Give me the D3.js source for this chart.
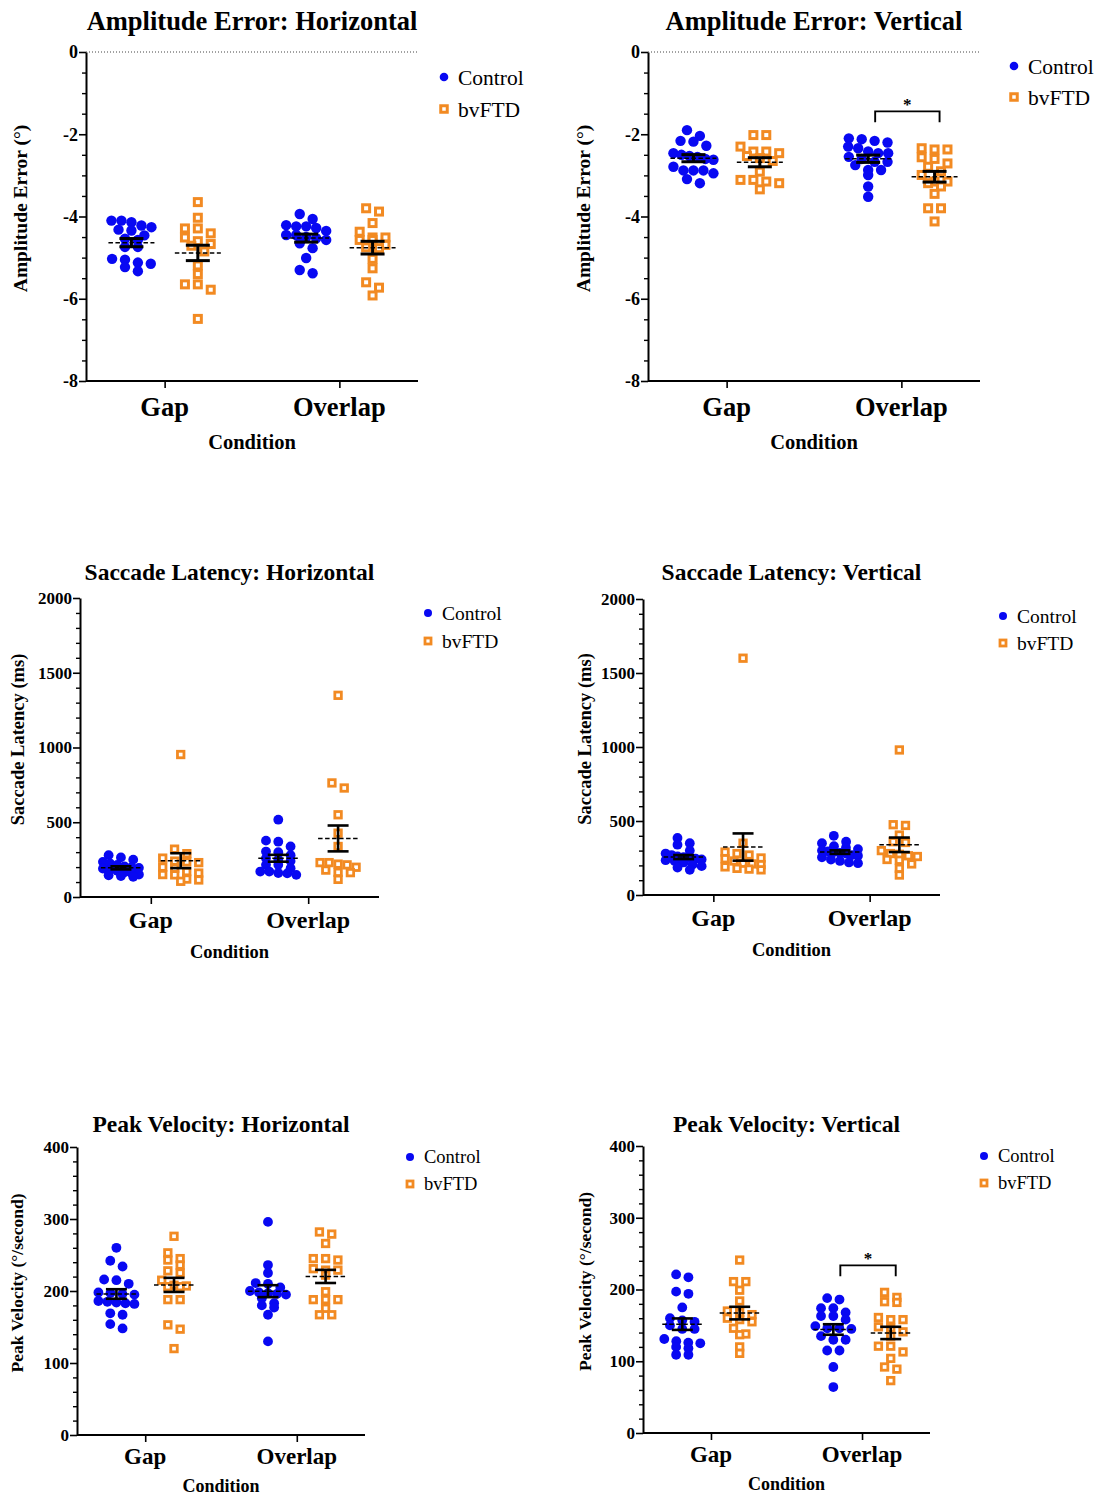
<!DOCTYPE html>
<html>
<head>
<meta charset="utf-8">
<script src="https://cdn.jsdelivr.net/npm/d3@7"></script>
<style>
  body { margin: 0; background: #fff; }
  svg { display: block; }
  text { font-family: "Liberation Serif", "DejaVu Serif", serif; fill: #000; }
</style>
</head>
<body>
<svg id="chart" width="1098" height="1497"></svg>
<script>
// ---- categories ----
const conditions = ["Gap", "Overlap"];
const groups = ["Control", "bvFTD"];

// ---- Amplitude error, horizontal (deg) ----
const ampHControlGap = [-4.10, -4.26, -4.46, -5.15, -4.14, -4.34, -4.57, -4.74, -5.03, -5.33, -4.10, -4.32, -4.54, -4.74, -5.05, -5.23, -4.22, -5.12];
const ampHbvFTDGap = [-3.65, -4.03, -4.29, -4.29, -4.41, -4.51, -4.71, -4.67, -5.19, -5.40, -5.65, -5.78, -5.65, -6.49, -4.60, -4.85];
const ampHControlOverlap = [-4.24, -4.28, -4.06, -3.94, -4.24, -4.21, -4.45, -4.35, -4.45, -4.57, -4.65, -4.53, -4.50, -4.77, -5.01, -5.38, -5.30];
const ampHbvFTDOverlap = [-3.80, -3.88, -4.16, -4.37, -4.57, -4.57, -4.51, -4.51, -4.69, -4.75, -4.77, -5.03, -5.26, -5.60, -5.73, -5.92];

// ---- Amplitude error, vertical (deg) ----
const ampVControlGap = [-1.90, -2.16, -2.04, -2.18, -2.28, -2.53, -2.46, -2.50, -2.60, -2.62, -2.55, -2.88, -2.88, -2.88, -2.79, -2.95, -3.09, -3.19];
const ampVbvFTDGap = [-2.02, -2.02, -2.42, -2.46, -2.30, -2.53, -2.42, -2.58, -2.65, -2.91, -3.15, -3.11, -3.34, -3.19, -3.11];
const ampVControlOverlap = [-2.20, -2.12, -2.10, -2.16, -2.42, -2.34, -2.30, -2.46, -2.46, -2.67, -2.67, -2.87, -2.87, -2.99, -3.27, -3.52, -2.55, -2.60, -2.75];
const ampVbvFTDOverlap = [-2.34, -2.37, -2.37, -2.56, -2.60, -2.71, -2.79, -2.99, -2.90, -3.15, -3.15, -3.19, -3.27, -3.45, -3.80, -3.80, -4.12];

// ---- Saccade latency, horizontal (ms) ----
const latHControlGap = [280, 265, 250, 235, 225, 215, 205, 200, 195, 190, 180, 175, 165, 160, 150, 145, 140, 135];
const latHbvFTDGap = [953, 320, 290, 260, 240, 235, 230, 200, 192, 170, 160, 150, 148, 120, 105, 114];
const latHControlOverlap = [517, 377, 370, 338, 304, 300, 280, 260, 250, 240, 215, 215, 192, 170, 170, 158, 148, 160];
const latHbvFTDOverlap = [1349, 763, 729, 550, 427, 338, 215, 230, 220, 199, 230, 163, 165, 118, 180];

// ---- Saccade latency, vertical (ms) ----
const latVControlGap = [385, 350, 340, 300, 280, 270, 260, 255, 250, 245, 240, 235, 230, 220, 205, 195, 185, 170];
const latVbvFTDGap = [1600, 350, 290, 280, 270, 250, 245, 230, 215, 210, 205, 190, 180, 175, 170];
const latVControlOverlap = [400, 360, 350, 330, 320, 310, 300, 295, 290, 285, 280, 270, 265, 255, 240, 230, 220, 215];
const latVbvFTDOverlap = [980, 475, 470, 405, 360, 355, 300, 280, 275, 265, 260, 240, 235, 210, 180, 135];

// ---- Peak velocity, horizontal (deg/s) ----
const pvHControlGap = [260, 242, 234, 216, 215, 210, 198, 197, 196, 195, 186, 185, 184, 183, 182, 167, 169, 148, 154];
const pvHbvFTDGap = [276, 253, 245, 243, 236, 228, 225, 215, 208, 207, 206, 206, 188, 188, 153, 147, 120];
const pvHControlOverlap = [296, 236, 225, 211, 210, 205, 200, 198, 197, 196, 195, 190, 183, 180, 177, 167, 130];
const pvHbvFTDOverlap = [282, 279, 266, 245, 243, 245, 229, 229, 231, 222, 199, 188, 188, 188, 176, 167, 167];

// ---- Peak velocity, vertical (deg/s) ----
const pvVControlGap = [221, 217, 194, 197, 175, 157, 160, 145, 145, 150, 155, 125, 128, 131, 126, 118, 120, 109, 109];
const pvVbvFTDGap = [241, 211, 211, 199, 184, 168, 170, 160, 155, 165, 158, 146, 137, 138, 120, 111];
const pvVControlOverlap = [186, 188, 174, 174, 168, 163, 163, 158, 149, 145, 146, 146, 135, 130, 130, 115, 115, 92, 64];
const pvVbvFTDOverlap = [196, 189, 183, 182, 158, 158, 161, 146, 148, 141, 135, 121, 121, 113, 104, 92, 89, 73];

// ---- axis ticks ----
const ampTicks = [-8, -6, -4, -2, 0];
const latTicks = [0, 500, 1000, 1500, 2000];
const pvTicks = [0, 100, 200, 300, 400];

// ---- titles / labels ----
const titles = ["Amplitude Error: Horizontal", "Amplitude Error: Vertical",
                "Saccade Latency: Horizontal", "Saccade Latency: Vertical",
                "Peak Velocity: Horizontal", "Peak Velocity: Vertical"];
const yLabels = ["Amplitude Error (°)", "Amplitude Error (°)",
                 "Saccade Latency (ms)", "Saccade Latency (ms)",
                 "Peak Velocity (°/second)", "Peak Velocity (°/second)"];
const xLabel = "Condition";

// Significant Control vs bvFTD comparisons (panel index, condition)
const significance = [{ panel: 1, condition: "Overlap", label: "*" }, { panel: 5, condition: "Overlap", label: "*" }];

// ---- panel data assembled from the arrays above ----
const panelData = [
  { ticks: ampTicks, domain: [-8, 0], minor: 0.5, zeroLine: true,
    series: { Control: { Gap: ampHControlGap, Overlap: ampHControlOverlap }, bvFTD: { Gap: ampHbvFTDGap, Overlap: ampHbvFTDOverlap } } },
  { ticks: ampTicks, domain: [-8, 0], minor: 0.5, zeroLine: true,
    series: { Control: { Gap: ampVControlGap, Overlap: ampVControlOverlap }, bvFTD: { Gap: ampVbvFTDGap, Overlap: ampVbvFTDOverlap } } },
  { ticks: latTicks, domain: [0, 2000], minor: 100, zeroLine: false,
    series: { Control: { Gap: latHControlGap, Overlap: latHControlOverlap }, bvFTD: { Gap: latHbvFTDGap, Overlap: latHbvFTDOverlap } } },
  { ticks: latTicks, domain: [0, 2000], minor: 100, zeroLine: false,
    series: { Control: { Gap: latVControlGap, Overlap: latVControlOverlap }, bvFTD: { Gap: latVbvFTDGap, Overlap: latVbvFTDOverlap } } },
  { ticks: pvTicks, domain: [0, 400], minor: 20, zeroLine: false,
    series: { Control: { Gap: pvHControlGap, Overlap: pvHControlOverlap }, bvFTD: { Gap: pvHbvFTDGap, Overlap: pvHbvFTDOverlap } } },
  { ticks: pvTicks, domain: [0, 400], minor: 20, zeroLine: false,
    series: { Control: { Gap: pvVControlGap, Overlap: pvVControlOverlap }, bvFTD: { Gap: pvVbvFTDGap, Overlap: pvVbvFTDOverlap } } }
];

// ---- layout (pixel geometry and type sizes) ----
const rowStyle = [
  { title: 26.5, titleY: 30, ylab: 19.5, tick: 18, cat: 26.5, catDy: 35, cond: 20.5, condDy: 68, legend: 21.5, r: 5.2, sq: 7, sqW: 3, cap: 12, meanW: 23, barW: 3, half: 20 },
  { title: 23.5, titleY: 580, ylab: 18.5, tick: 17, cat: 24, catDy: 31, cond: 18.5, condDy: 61, legend: 19.5, r: 4.9, sq: 6.5, sqW: 2.8, cap: 10.5, meanW: 20, barW: 2.6, half: 18 },
  { title: 23.5, titleY: 1132, ylab: 17.5, tick: 17, cat: 23, catDy: 29, cond: 18, condDy: 57, legend: 18.5, r: 4.9, sq: 6.5, sqW: 2.8, cap: 10.5, meanW: 20, barW: 2.6, half: 18 }
];
const layout = [
  { left: 86, right: 418, top: 52, bottom: 381, legX: 444, legY: 77, legDy: 32, ylabX: 20 },
  { left: 648, right: 980, top: 52, bottom: 381, legX: 1014, legY: 66, legDy: 31, ylabX: 583 },
  { left: 80, right: 379, top: 598, bottom: 897, legX: 428, legY: 613, legDy: 28, ylabX: 18 },
  { left: 643, right: 940, top: 599, bottom: 895, legX: 1003, legY: 616, legDy: 27, ylabX: 585 },
  { left: 77, right: 365, top: 1147, bottom: 1435, legX: 410, legY: 1157, legDy: 27, ylabX: 17 },
  { left: 643, right: 930, top: 1146, bottom: 1433, legX: 984, legY: 1156, legDy: 27, ylabX: 585 }
];

const colors = { Control: "#0808f2", bvFTD: "#f28a22" };

const svg = d3.select("#chart");

// Scatter layout: points keep their value on y, are binned into rows by pixel
// height, and each row is spread symmetrically about the group centre
// (compressed when a row would grow wider than the allowed half-width).
function swarm(values, y, cx, r, half) {
  const pts = values.map(v => ({ v, y: y(v) })).sort((a, b) => a.y - b.y);
  const rows = [];
  const h = 1.3 * r;
  let cur = null;
  pts.forEach(p => {
    if (!cur || p.y - cur.start > h) { cur = { start: p.y, pts: [] }; rows.push(cur); }
    cur.pts.push(p);
  });
  rows.forEach(row => {
    const n = row.pts.length;
    let sp = 2 * r + 2.5;
    if (n > 1) sp = Math.min(sp, (2 * half) / (n - 1));
    row.pts.forEach((p, j) => { p.x = cx + (j - (n - 1) / 2) * sp; });
  });
  return pts;
}

function drawMarker(sel, group, x, y, st, legend) {
  if (group === "Control") {
    sel.append("circle").attr("cx", x).attr("cy", y).attr("r", legend ? st.r - 0.9 : st.r)
      .attr("fill", colors.Control);
  } else {
    const s = legend ? st.sq - 0.5 : st.sq;
    sel.append("rect").attr("x", x - s / 2).attr("y", y - s / 2).attr("width", s).attr("height", s)
      .attr("fill", "#fff").attr("stroke", colors.bvFTD).attr("stroke-width", st.sqW);
  }
}

panelData.forEach((pd, i) => {
  const L = layout[i];
  const st = rowStyle[Math.floor(i / 2)];
  const g = svg.append("g");

  const y = d3.scaleLinear().domain(pd.domain).range([L.bottom, L.top]);
  const x = d3.scalePoint().domain(conditions).range([L.left, L.right]).padding(0.45);
  const gOff = d3.scalePoint().domain(groups).range([-x.step() * 0.19, x.step() * 0.19]);

  // zero reference line
  if (pd.zeroLine) {
    g.append("line").attr("x1", L.left).attr("x2", L.right).attr("y1", y(0)).attr("y2", y(0))
      .attr("stroke", "#444").attr("stroke-width", 1).attr("stroke-dasharray", "1,2");
  }

  // minor y ticks
  const minorVals = d3.range(pd.domain[0], pd.domain[1] + pd.minor / 2, pd.minor)
    .filter(v => !pd.ticks.some(t => Math.abs(t - v) < 1e-9));
  g.append("g").attr("transform", `translate(${L.left},0)`)
    .call(d3.axisLeft(y).tickValues(minorVals).tickSize(4).tickFormat(""))
    .call(a => a.select(".domain").remove())
    .selectAll("line").attr("stroke", "#000").attr("stroke-width", 1.4);

  // major y axis
  const ya = g.append("g").attr("transform", `translate(${L.left},0)`)
    .call(d3.axisLeft(y).tickValues(pd.ticks).tickSize(7).tickPadding(1).tickSizeOuter(0).tickFormat(d => String(d)));
  ya.select(".domain").attr("stroke", "#000").attr("stroke-width", 2);
  ya.selectAll(".tick line").attr("stroke", "#000").attr("stroke-width", 1.6);
  ya.selectAll(".tick text").attr("font-size", st.tick).attr("font-weight", "bold")
    .attr("font-family", "Liberation Serif, serif").attr("fill", "#000");

  // x axis
  const xa = g.append("g").attr("transform", `translate(0,${L.bottom})`)
    .call(d3.axisBottom(x).tickSize(7).tickSizeOuter(0).tickPadding(10));
  xa.select(".domain").attr("stroke", "#000").attr("stroke-width", 2)
    .attr("d", `M${L.left},0H${L.right}`);
  xa.selectAll(".tick line").attr("stroke", "#000").attr("stroke-width", 1.6);
  xa.selectAll(".tick text").remove();
  conditions.forEach(c => {
    g.append("text").attr("x", x(c)).attr("y", L.bottom + st.catDy).attr("text-anchor", "middle")
      .attr("font-size", st.cat).attr("font-weight", "bold").text(c);
  });

  // titles
  const midX = (L.left + L.right) / 2;
  g.append("text").attr("x", midX).attr("y", st.titleY).attr("text-anchor", "middle")
    .attr("font-size", st.title).attr("font-weight", "bold").text(titles[i]);
  g.append("text").attr("x", midX).attr("y", L.bottom + st.condDy).attr("text-anchor", "middle")
    .attr("font-size", st.cond).attr("font-weight", "bold").text(xLabel);
  g.append("text").attr("transform", `translate(${L.ylabX},${(L.top + L.bottom) / 2 - 8}) rotate(-90)`)
    .attr("text-anchor", "middle").attr("dy", "0.35em")
    .attr("font-size", st.ylab).attr("font-weight", "bold").text(yLabels[i]);

  // points, mean and SEM
  const tops = {};
  conditions.forEach(c => {
    groups.forEach(grp => {
      const vals = pd.series[grp][c];
      const cx = x(c) + gOff(grp);
      const pts = swarm(vals, y, cx, st.r, st.half);
      const pg = g.append("g");
      pts.forEach(p => drawMarker(pg, grp, p.x, p.y, st, false));
      tops[c + grp] = d3.min(pts, p => p.y);

      const m = d3.mean(vals);
      const sem = d3.deviation(vals) / Math.sqrt(vals.length);
      g.append("line").attr("x1", cx - st.meanW).attr("x2", cx + st.meanW)
        .attr("y1", y(m)).attr("y2", y(m)).attr("stroke", "#000").attr("stroke-width", 1.5)
        .attr("stroke-dasharray", "4.5,2.5");
      const eb = g.append("g").attr("stroke", "#000").attr("stroke-width", st.barW);
      eb.append("line").attr("x1", cx).attr("x2", cx).attr("y1", y(m + sem)).attr("y2", y(m - sem));
      [m + sem, m - sem].forEach(v => {
        eb.append("line").attr("x1", cx - st.cap).attr("x2", cx + st.cap).attr("y1", y(v)).attr("y2", y(v));
      });
    });
  });

  // significance bracket
  significance.filter(s => s.panel === i).forEach(s => {
    const x1 = x(s.condition) + gOff("Control") + 7;
    const x2 = x(s.condition) + gOff("bvFTD") + 5;
    const by = Math.min(tops[s.condition + "Control"], tops[s.condition + "bvFTD"]) - 27;
    g.append("path").attr("d", `M${x1},${by + 11}V${by}H${x2}V${by + 11}`)
      .attr("fill", "none").attr("stroke", "#000").attr("stroke-width", 1.9);
    g.append("text").attr("x", (x1 + x2) / 2).attr("y", by - 1).attr("text-anchor", "middle")
      .attr("font-size", 17).attr("font-weight", "bold").text(s.label);
  });

  // legend
  groups.forEach((grp, k) => {
    const ly = L.legY + k * L.legDy;
    drawMarker(g, grp, L.legX, ly, st, true);
    g.append("text").attr("x", L.legX + 14).attr("y", ly).attr("dy", "0.35em")
      .attr("font-size", st.legend).text(grp);
  });
});
</script>
</body>
</html>
